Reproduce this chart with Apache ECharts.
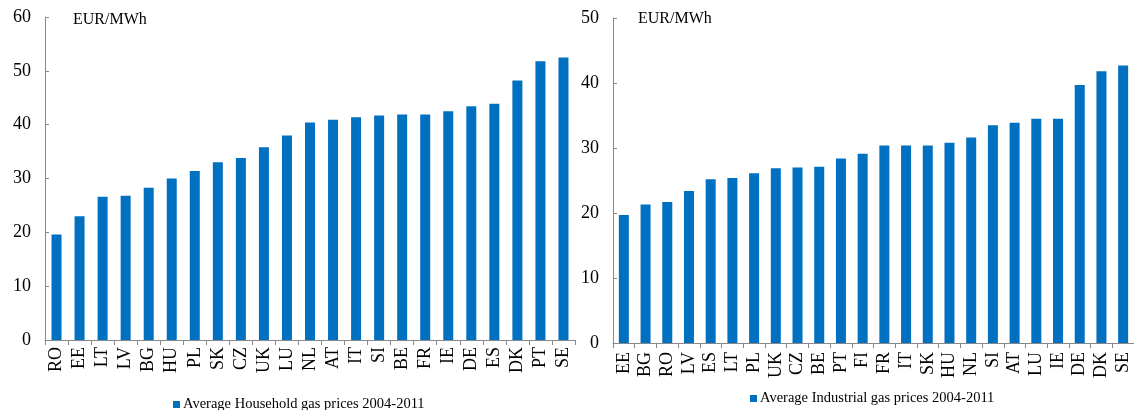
<!DOCTYPE html>
<html>
<head>
<meta charset="utf-8">
<script src="https://cdn.jsdelivr.net/npm/echarts@6/dist/echarts.min.js"></script>
<style>
  html, body { margin: 0; padding: 0; background: #fff; }
  #chart { width: 1134px; height: 410px; }
</style>
</head>
<body>
<div id="chart"></div>
<script>
// Household gas prices, average 2004-2011 (EUR/MWh)
const householdCountries = ['RO','EE','LT','LV','BG','HU','PL','SK','CZ','UK','LU','NL','AT','IT','SI','BE','FR','IE','DE','ES','DK','PT','SE'];
const householdPrices = [19.6, 23.0, 26.6, 26.8, 28.3, 30.0, 31.4, 33.0, 33.8, 35.8, 38.0, 40.4, 40.9, 41.4, 41.7, 41.9, 41.9, 42.5, 43.4, 43.9, 48.2, 51.8, 52.5];

// Industrial gas prices, average 2004-2011 (EUR/MWh)
const industrialCountries = ['EE','BG','RO','LV','ES','LT','PL','UK','CZ','BE','PT','FI','FR','IT','SK','HU','NL','SI','AT','LU','IE','DE','DK','SE'];
const industrialPrices = [19.7, 21.3, 21.7, 23.4, 25.2, 25.4, 26.1, 26.9, 27.0, 27.1, 28.4, 29.1, 30.4, 30.4, 30.4, 30.8, 31.6, 33.5, 33.9, 34.5, 34.5, 39.7, 41.8, 42.7];

const householdTicks = [0, 10, 20, 30, 40, 50, 60];
const industrialTicks = [0, 10, 20, 30, 40, 50];

const FONT = '"Liberation Serif", "Times New Roman", serif';
const AXIS_GREY = '#888888';
const BAR_BLUE = '#0070C0';

function valueAxis(gridIndex, ticks) {
  return {
    type: 'value',
    gridIndex: gridIndex,
    min: ticks[0],
    max: ticks[ticks.length - 1],
    interval: ticks[1] - ticks[0],
    axisLine: { show: true, lineStyle: { color: AXIS_GREY, width: 1 } },
    axisTick: { show: true, inside: true, length: 4, lineStyle: { color: AXIS_GREY } },
    splitLine: { show: false },
    axisLabel: { fontFamily: FONT, fontSize: 18, color: '#000', margin: 14 }
  };
}

function categoryAxis(gridIndex, cats, margin) {
  return {
    type: 'category',
    gridIndex: gridIndex,
    data: cats,
    boundaryGap: true,
    axisLine: { show: true, lineStyle: { color: AXIS_GREY, width: 1 } },
    axisTick: { show: true, alignWithLabel: false, length: 5, lineStyle: { color: AXIS_GREY } },
    axisLabel: { interval: 0, rotate: 90, fontFamily: FONT, fontSize: 18, color: '#000', margin: margin }
  };
}

const titleStyle = { fontFamily: FONT, fontSize: 16, fontWeight: 'normal', color: '#000' };
const legendText = { fontFamily: FONT, fontSize: 14.5, color: '#000', padding: [0, 0, 0, -2] };

const chart = echarts.init(document.getElementById('chart'), null, { renderer: 'canvas' });

chart.setOption({
  animation: false,
  backgroundColor: '#ffffff',
  title: [
    { text: 'EUR/MWh', left: 73, top: 12, padding: 0, textStyle: titleStyle },
    { text: 'EUR/MWh', left: 638, top: 11, padding: 0, textStyle: titleStyle }
  ],
  legend: [
    {
      data: ['Average Household gas prices 2004-2011'],
      left: 168, top: 392,
      itemWidth: 7, itemHeight: 7, itemGap: 6,
      icon: 'rect',
      textStyle: legendText
    },
    {
      data: ['Average Industrial gas prices 2004-2011'],
      left: 745, top: 386,
      itemWidth: 7, itemHeight: 7, itemGap: 6,
      icon: 'rect',
      textStyle: legendText
    }
  ],
  grid: [
    { left: 45, top: 17, width: 530, height: 323 },
    { left: 613, top: 18, width: 528, height: 325 }
  ],
  xAxis: [
    categoryAxis(0, householdCountries, 7),
    categoryAxis(1, industrialCountries, 9)
  ],
  yAxis: [
    valueAxis(0, householdTicks),
    valueAxis(1, industrialTicks)
  ],
  series: [
    {
      name: 'Average Household gas prices 2004-2011',
      type: 'bar',
      xAxisIndex: 0, yAxisIndex: 0,
      data: householdPrices,
      barWidth: 10,
      itemStyle: { color: BAR_BLUE }
    },
    {
      name: 'Average Industrial gas prices 2004-2011',
      type: 'bar',
      xAxisIndex: 1, yAxisIndex: 1,
      data: industrialPrices,
      barWidth: 10,
      itemStyle: { color: BAR_BLUE }
    }
  ]
});
</script>
</body>
</html>
